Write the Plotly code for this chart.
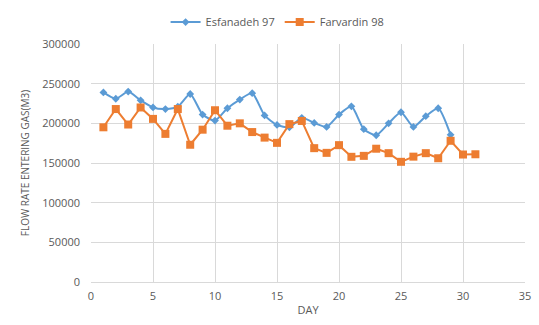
import plotly.graph_objects as go

days_esf = list(range(1, 30))
esfanadeh_97 = [239000, 231000, 240000, 229000, 220000, 218000, 221000, 237000, 211000, 203500,
                219000, 230000, 238000, 210000, 198000, 195000, 207000, 200500, 195500, 211000,
                221500, 192600, 185000, 200000, 214000, 195500, 209000, 219000, 185500]
days_far = list(range(1, 32))
farvardin_98 = [195000, 218000, 198500, 220000, 205600, 186700, 218000, 173000, 192000, 216500,
                197000, 200000, 189000, 182000, 175400, 199000, 203000, 168700, 162800, 172500,
                157800, 159000, 168000, 162400, 151500, 158000, 162400, 156000, 178000, 160700,
                161000]

x_ticks = [0, 5, 10, 15, 20, 25, 30, 35]
y_ticks = [0, 50000, 100000, 150000, 200000, 250000, 300000]
y_tick_labels = ["0", "50000", "100000", "150000", "200000", "250000", "300000"]

fig = go.Figure()
fig.add_trace(go.Scatter(
    x=days_esf, y=esfanadeh_97, name="Esfanadeh 97", mode="lines+markers",
    line=dict(color="#5B9BD5", width=2, shape="spline", smoothing=0.6),
    marker=dict(symbol="diamond", size=6, color="#5B9BD5")))
fig.add_trace(go.Scatter(
    x=days_far, y=farvardin_98, name="Farvardin 98", mode="lines+markers",
    line=dict(color="#ED7D31", width=2),
    marker=dict(symbol="square", size=8, color="#ED7D31")))

fig.update_layout(
    width=539, height=325,
    margin=dict(l=91, r=14, t=44, b=43, autoexpand=False),
    paper_bgcolor="white", plot_bgcolor="white",
    hovermode=False,
    font=dict(family="Open Sans, Arial, sans-serif", color="#595959", size=11),
    legend=dict(orientation="h", x=0.515, xref="container", xanchor="center",
                y=0.932, yanchor="middle", yref="container",
                font=dict(size=11, color="#595959"), itemwidth=30),
    xaxis=dict(range=[0, 35], tickvals=x_ticks, showgrid=True, gridcolor="#D9D9D9",
               showline=True, linecolor="#D9D9D9", zeroline=False,
               title=dict(text="DAY", font=dict(size=11), standoff=4),
               ticks="", tickfont=dict(size=11), ticklabelstandoff=4),
    yaxis=dict(range=[0, 300000], tickvals=y_ticks, ticktext=y_tick_labels,
               showgrid=True, gridcolor="#D9D9D9",
               zeroline=False, showline=False,
               title=dict(text="FLOW RATE ENTERING GAS(M3)", font=dict(size=10), standoff=10),
               ticks="", tickfont=dict(size=11), ticklabelstandoff=10),
)
fig.write_html("out.html", config={"displayModeBar": False},
               post_script="document.body.style.margin='0';document.body.style.overflow='hidden';")
